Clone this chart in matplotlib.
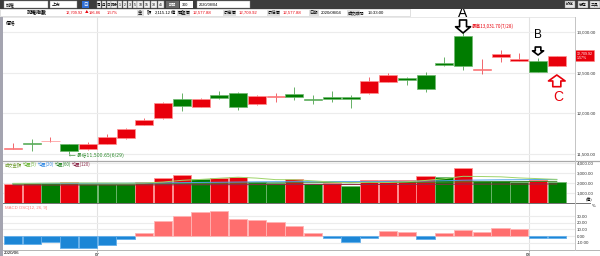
import matplotlib
matplotlib.use('Agg')
import matplotlib.pyplot as plt
import matplotlib.transforms as mtransforms
from matplotlib.patches import Rectangle
from matplotlib.lines import Line2D
import numpy as np

plt.rcParams['font.family'] = ['Noto Sans CJK TC', 'DejaVu Sans']

# daily data (TAIEX, 2020/06/22 - 2020/08/04)
dates = ['06/22', '06/23', '06/24', '06/29', '06/30', '07/01', '07/02', '07/03', '07/06', '07/07',
         '07/08', '07/09', '07/10', '07/13', '07/14', '07/15', '07/16', '07/17', '07/20', '07/21',
         '07/22', '07/23', '07/24', '07/27', '07/28', '07/29', '07/30', '07/31', '08/03', '08/04']
open_ = [11562, 11628, 11655, 11619, 11557, 11626, 11700, 11860, 11939, 12180,
         12081, 12229, 12253, 12111, 12205, 12237, 12176, 12197, 12204, 12246,
         12389, 12431, 12471, 12622, 12954, 12535, 12689, 12647, 12643, 12577.88]
close = [11573, 11620, 11665, 11540, 11622, 11712, 11811, 11918, 12130, 12094,
         12172, 12192, 12074, 12216, 12209, 12204, 12160, 12180, 12176, 12397,
         12471, 12413, 12299, 12594, 12585, 12545, 12726, 12664, 12513.06, 12709.92]
high = [11635, 11684, 11709, 11625, 11647, 11745, 11815, 11946, 12140, 12253,
        12192, 12274, 12258, 12225, 12246, 12320, 12221, 12274, 12221, 12450,
        12492, 12443, 12512, 12689, 13031.70, 12664, 12779, 12738, 12676, 12709.92]
low = [11555, 11536, 11650, 11500.65, 11550, 11620, 11684, 11855, 11930, 12028,
       12075, 12176, 12037, 12105, 12143, 12164, 12114, 12143, 12061, 12240,
       12380, 12348, 12266, 12585, 12533, 12483, 12627, 12640, 12505, 12577.88]

# trade value (億)
volume = [1870, 2030, 2020, 2070, 1930, 1920, 1900, 2130, 2530, 2770,
          2370, 2500, 2600, 2070, 2030, 2370, 1930, 2000, 1730, 2260,
          2270, 2280, 2670, 2570, 3470, 2170, 2160, 2070, 2300, 2100]
ma5 = [1950, 1960, 1980, 2000, 1990, 1990, 1970, 1990, 2080, 2250,
       2340, 2460, 2560, 2470, 2320, 2310, 2200, 2080, 2010, 2060,
       2040, 2110, 2240, 2410, 2650, 2630, 2600, 2490, 2420, 2340]
ma20 = [1930, 1940, 1950, 1950, 1960, 1960, 1970, 1980, 2000, 2020,
        2040, 2060, 2080, 2100, 2110, 2120, 2120, 2130, 2120, 2130,
        2140, 2150, 2180, 2210, 2260, 2280, 2300, 2310, 2330, 2340]
ma60 = [1880, 1880, 1890, 1890, 1900, 1900, 1900, 1910, 1920, 1940,
        1950, 1960, 1980, 1990, 2000, 2010, 2010, 2020, 2020, 2030,
        2040, 2040, 2060, 2070, 2100, 2110, 2120, 2130, 2140, 2150]
ma120 = [1780, 1780, 1785, 1785, 1790, 1790, 1790, 1795, 1800, 1805,
         1810, 1815, 1820, 1825, 1830, 1830, 1835, 1835, 1840, 1840,
         1845, 1850, 1855, 1860, 1870, 1875, 1880, 1880, 1885, 1890]

# MACD OSC(12, 26, 9)
osc = [-12, -12, -9.5, -17.5, -18.5, -13.5, -5, 5, 23, 30,
       36, 37.5, 26, 24.5, 20.5, 14.5, 4.5, -2.5, -9.5, -2.5,
       7.5, 5.5, -5, 5, 8.5, 5.5, 12.5, 10.5, -3.5, -2.5]

price_ticks = [11500, 12000, 12500, 13000]
vol_ticks = [1000, 2000, 3000, 4000]
osc_ticks = [-10, 0, 10, 20, 30]

RED, GREEN = '#e8000b', '#007c00'
RED_E, GREEN_E = '#ff9090', '#70b870'
NUM = ['Liberation Sans', 'Noto Sans CJK TC']

W, H = 600, 256
fig = plt.figure(figsize=(6, 2.56), dpi=100)
fig.patch.set_facecolor('white')


def box(x0, y0, x1, y1):
    return [x0 / W, 1 - y1 / H, (x1 - x0) / W, (y1 - y0) / H]


def frect(x0, y0, x1, y1, **kw):
    fig.patches.append(Rectangle((x0 / W, 1 - y1 / H), (x1 - x0) / W, (y1 - y0) / H,
                                 transform=fig.transFigure, **kw))


def fline(x0, y0, x1, y1, **kw):
    fig.lines.append(Line2D([x0 / W, x1 / W], [1 - y0 / H, 1 - y1 / H],
                            transform=fig.transFigure, **kw))


def ftext(x, y, s, **kw):
    kw.setdefault('fontsize', 3.3)
    kw.setdefault('va', 'center')
    fig.text(x / W, 1 - y / H, s, **kw)


def off(ax, dx=0, dy=0):
    return mtransforms.offset_copy(ax.transData, fig=fig, x=dx, y=dy, units='dots')


# toolbar + info row
frect(0, 0, 600, 9, fc='#3c3c3c', ec='none')
frect(4, 1, 48, 8, fc='white', ec='#909090', lw=0.3)
ftext(6, 4.6, '加權', color='black', fontsize=3.2)
frect(50, 1, 77, 8, fc='white', ec='#909090', lw=0.3)
ftext(52, 4.6, '上市', color='black', fontsize=3.2)
frect(82, 1, 89, 8, fc='#2f6fd6', ec='none')
ftext(83, 4.6, '日', color='white', fontsize=3.2)
bx = 97
for lab in ['周', '月', '日', '時分', '1', '2', '3', '5', '10', '15', '30', '45']:
    w = 4 if len(lab) == 1 else 6
    frect(bx, 1, bx + w, 8, fc='#f2f2f2', ec='#808080', lw=0.3)
    ftext(bx + w / 2, 4.6, lab, ha='center', fontsize=2.5, color='black', family=NUM)
    bx += w + 0.8
frect(166, 1, 179, 8, fc='#6a6a6a', ec='none')
ftext(172.5, 4.6, '期間', color='white', fontsize=2.6, ha='center')
frect(180, 1, 193, 8, fc='white', ec='none')
ftext(182, 4.6, '300', fontsize=2.8, family=NUM)
frect(197, 1, 250, 8, fc='white', ec='#909090', lw=0.3)
ftext(199, 4.6, '2020/08/04', fontsize=2.8, family=NUM)
for x0, lab in [(565, '設定'), (578, '儲存'), (590, '工具')]:
    frect(x0, 0.5, x0 + 10, 8, fc='#e6e6e6', ec='#808080', lw=0.3)
    ftext(x0 + 5, 4.4, lab, ha='center', fontsize=2.8)

frect(0, 9, 410, 16, fc='white', ec='#c8c8c8', lw=0.4)
ftext(27, 12.5, '加權指數', fontsize=3.6, weight='bold')
ftext(66, 12.5, '12,709.92', color=RED, family=NUM, fontsize=2.8)
ftext(85, 12.5, '▲', color=RED, fontsize=2.6)
ftext(89, 12.5, '196.86', color=RED, family=NUM, fontsize=2.8)
ftext(107, 12.5, '1.57%', color=RED, family=NUM, fontsize=2.8)
frect(137, 9.5, 144, 15.5, fc='#e0e0e0', ec='none')
ftext(138, 12.5, '金', fontsize=3.1)
ftext(147, 12.5, '額', fontsize=3.1)
ftext(155, 12.5, '2,115.12', fontsize=3.1, family=NUM)
ftext(171, 12.5, '億', fontsize=3.1)
for x0, lab, val in [(177, '開盤價', '12,577.88'), (223, '最高價', '12,709.92'),
                     (267, '最低價', '12,577.88')]:
    frect(x0, 9.5, x0 + 13, 15.5, fc='#e0e0e0', ec='none')
    ftext(x0 + 0.5, 12.5, lab, fontsize=3.1)
    ftext(x0 + 16, 12.5, val, color=RED, fontsize=3.1, family=NUM)
frect(309, 9.5, 319, 15.5, fc='#e0e0e0', ec='none')
ftext(309.5, 12.5, '日期', fontsize=3.1)
ftext(321, 12.5, '2020/08/04', fontsize=3.1, family=NUM)
frect(347, 9.5, 360, 15.5, fc='#e0e0e0', ec='none')
ftext(347.5, 12.5, '成交時間', fontsize=3.0)
ftext(368, 12.5, '13:33:00', fontsize=3.1, family=NUM)

# panels
x = np.arange(len(dates))
o, c = np.array(open_), np.array(close)
h, l = np.array(high), np.array(low)
XLIM = (-0.533, 29.97)

ax_p = fig.add_axes(box(3, 17, 575, 160.7))
ax_v = fig.add_axes(box(3, 160.7, 575, 203))
ax_o = fig.add_axes(box(3, 203, 575, 250))

for ax, ticks, lim in [(ax_p, price_ticks, (11417, 13184)),
                       (ax_v, vol_ticks, (0, 4200)),
                       (ax_o, osc_ticks, (-21, 49.5))]:
    ax.set_xlim(*XLIM)
    ax.set_ylim(*lim)
    for s in ax.spines.values():
        s.set_visible(False)
    ax.yaxis.tick_right()
    ax.set_yticks(ticks)
    ax.set_yticklabels([f'{t:,.2f}' for t in ticks], family=NUM)
    ax.tick_params(axis='y', length=0, pad=1.5, labelsize=3.2, labelcolor='#333333')
    ax.tick_params(axis='x', length=0, labelbottom=False)
    ax.grid(axis='y', color='#ececec', lw=0.8)
    ax.set_axisbelow(True)
    for b in [4.5, 27.5]:
        ax.axvline(b, color='#e2e2e2', lw=0.8, zorder=0)

# candles
up = c >= o
col = np.where(up, RED, GREEN)
ecol = np.where(up, RED_E, GREEN_E)
ax_p.vlines(x, l, h, colors=col, lw=0.7, alpha=0.6, zorder=2)
body = np.abs(c - o)
bh = np.maximum(body, 9)
ax_p.bar(x, bh, bottom=np.minimum(o, c) - (bh - body) / 2, width=0.96,
         color=col, edgecolor=ecol, lw=0.5, zorder=3)

ax_p.text(0.005, 0.975, '價格', transform=ax_p.transAxes, fontsize=3.5, va='top')

# high / low marks
ax_p.annotate('最高13,031.70(7/28)', xy=(24, h[24]), xycoords=off(ax_p, 9, 2.7),
              fontsize=3.3, color=RED, va='center', ha='left', annotation_clip=False)
ax_p.annotate('⟵ 最低11,500.65(6/29)', xy=(3, l[3]), xycoords=off(ax_p, 0, -1.8),
              fontsize=3.3, color='#2e8b2e', va='center', ha='left', annotation_clip=False,
              family=['DejaVu Sans', 'Noto Sans CJK TC'])


def block_arrow(ax, i, y, tip, tail, hw, hl, tw, ec):
    ax.annotate('', xy=(i, y), xycoords=off(ax, 0, tip), xytext=(i, y),
                textcoords=off(ax, 0, tail), annotation_clip=False,
                arrowprops=dict(arrowstyle=f'simple,head_length={hl},head_width={hw},tail_width={tw}',
                                fc='white', ec=ec, lw=1.2, shrinkA=0, shrinkB=0,
                                mutation_scale=10))


block_arrow(ax_p, 24, h[24], -3.6, 9.4, 1.08, 0.45, 0.5, 'black')
ax_p.annotate('A', xy=(24, h[24]), xycoords=off(ax_p, 0, 16.5), fontsize=10,
              ha='center', va='center', family='Liberation Sans', annotation_clip=False)
block_arrow(ax_p, 28, h[28], 3.3, 11.3, 0.8, 0.3, 0.4, 'black')
ax_p.annotate('B', xy=(28, h[28]), xycoords=off(ax_p, 0, 23), fontsize=8.5,
              ha='center', va='center', family='Liberation Sans', annotation_clip=False)
block_arrow(ax_p, 29, l[29], -8.7, -20.4, 1.2, 0.43, 0.58, RED)
ax_p.annotate('C', xy=(29, l[29]), xycoords=off(ax_p, 1.5, -30.5), fontsize=10,
              ha='center', va='center', family='Liberation Sans', color=RED,
              annotation_clip=False)

# current price tag
ax_p.text(1.003, c[-1], '12,709.92\n1.57%', transform=mtransforms.blended_transform_factory(
    ax_p.transAxes, ax_p.transData), fontsize=2.6, color='white', ha='left', va='center',
    family=NUM, linespacing=1.1,
    bbox=dict(boxstyle='square,pad=0.35', fc=RED, ec='#ff8080', lw=0.4), clip_on=False)

# trade value
v = np.array(volume)
vup = np.r_[True, v[1:] >= v[:-1]]
ax_v.bar(x, v, width=0.97, color=np.where(vup, RED, GREEN),
         edgecolor=np.where(vup, RED_E, GREEN_E), lw=0.6, zorder=2)
for ma, cl in [(ma120, '#8e2a4a'), (ma60, '#3f8a2a'), (ma20, '#4aa3e8'), (ma5, '#9fd46a')]:
    ax_v.plot(x, ma, color=cl, lw=0.7, zorder=3)
for lx, lab, cl in [(5, '成交金額', '#6c9a2c'), (23, '均量(5)', '#6fb83a'),
                    (38, '均量(20)', '#3a8ee6'), (55, '均量(60)', '#2e8b2e'),
                    (72, '均量(120)', '#8e2a4a')]:
    ftext(lx, 164.2, lab, color=cl, fontsize=3.1)

# MACD OSC
oa = np.array(osc)
ax_o.bar(x, oa, width=0.97, color=np.where(oa >= 0, '#ff6e6e', '#1c86d6'),
         edgecolor=np.where(oa >= 0, '#ffb4b4', '#62aeea'), lw=0.6, zorder=2)
ftext(5, 207.5, 'MACD OSC[12, 26, 9]', color='#ff7a7a', fontsize=3.1, family=NUM)

# frame lines
frect(0, 17, 2.6, 256, fc='#a4a4b0', ec='none')
fline(3, 17, 575, 17, color='#e4e4e4', lw=0.6)
fline(3, 160.7, 600, 160.7, color='#a8a8a8', lw=0.9)
fline(3, 203, 590, 203, color='#707070', lw=0.7)
fline(3, 250, 600, 250, color='#b4b4b4', lw=0.7)
fline(575, 17, 575, 250, color='#c4c4c4', lw=0.7)
ftext(586, 200.5, '(億)', fontsize=2.9)
ftext(592, 206, '%', fontsize=2.9)

# date axis
ax_o.set_xticks([4.5, 27.5])
ax_o.set_xticklabels(['07', '08'], family=NUM)
ax_o.tick_params(axis='x', length=1.5, width=0.5, color='#888888', labelbottom=True,
                 labelsize=3.2, pad=0.8)
ftext(4, 253.3, '2020/06', fontsize=3.2, family=NUM)

fig.savefig('out.png', dpi=100, facecolor='white')
